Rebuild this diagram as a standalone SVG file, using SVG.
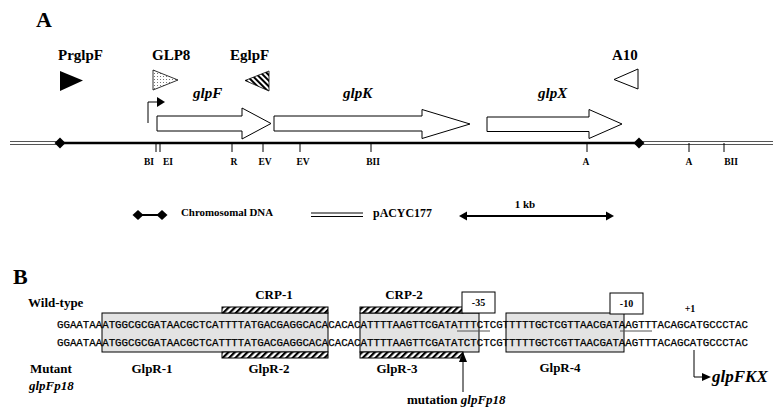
<svg xmlns="http://www.w3.org/2000/svg" width="783" height="414" viewBox="0 0 783 414">
<defs>
<style>
.b{font-family:"Liberation Serif","Times New Roman",serif;font-weight:bold;fill:#000}
.bi{font-family:"Liberation Serif","Times New Roman",serif;font-weight:bold;font-style:italic;fill:#000}
.r{font-family:"Liberation Serif","Times New Roman",serif;font-weight:bold;fill:#000}
.seq{font-family:"Liberation Mono","Courier New",monospace;font-size:10.8px;fill:#000;stroke:#000;stroke-width:0.25}
.gene{fill:#fff;stroke:#000;stroke-width:1}
.tick{stroke:#000;stroke-width:1}
.site{font-family:"Liberation Serif","Times New Roman",serif;font-weight:bold;font-size:9.5px;text-anchor:middle}
.hbar{fill:url(#hatch);stroke:#000;stroke-width:1}
.gbox{fill:#e3e3e3;stroke:#000;stroke-width:1}
.nbox{fill:#fff;stroke:#000;stroke-width:1}
.dbl{stroke:#555;stroke-width:1;fill:none}
.ul{stroke:#555;stroke-width:1}
</style>
<pattern id="hatch" patternUnits="userSpaceOnUse" width="4.5" height="4.5" patternTransform="rotate(45)">
<rect width="4.5" height="4.5" fill="#fff"/><rect width="2.2" height="4.5" fill="#000"/>
</pattern>
<pattern id="hatch2" patternUnits="userSpaceOnUse" width="4" height="4" patternTransform="rotate(-45)">
<rect width="4" height="4" fill="#fff"/><rect width="2" height="4" fill="#000"/>
</pattern>
<pattern id="dots" patternUnits="userSpaceOnUse" width="3" height="3">
<rect width="3" height="3" fill="#fff"/><rect x="1" y="1" width="1" height="1" fill="#777"/>
</pattern>
</defs>
<rect width="783" height="414" fill="#fff"/>

<text class="b" x="36" y="27" font-size="22">A</text>

<g id="connectors">
<line class="dbl" x1="10" y1="141.5" x2="60" y2="141.5"/>
<line class="dbl" x1="10" y1="144.5" x2="60" y2="144.5"/>
<line class="dbl" x1="639" y1="141.5" x2="773" y2="141.5" stroke="#222"/>
<line class="dbl" x1="639" y1="144.5" x2="773" y2="144.5" stroke="#222"/>
<line x1="60" y1="143" x2="639" y2="143" stroke="#000" stroke-width="2.6"/>
<path d="M148,123 V102 H158" fill="none" stroke="#000" stroke-width="1"/>
<polygon points="157,97 165,102 157,107" fill="#000"/>
</g>

<g id="diamond-left"><polygon points="60,137.5 65.5,143 60,148.5 54.5,143" fill="#000"/></g>
<g id="diamond-right"><polygon points="639,137.5 644.5,143 639,148.5 633.5,143" fill="#000"/></g>

<g id="sites">
<line class="tick" x1="156" y1="143" x2="156" y2="152"/>
<line class="tick" x1="160" y1="143" x2="160" y2="152"/>
<line class="tick" x1="232" y1="143" x2="232" y2="152"/>
<line class="tick" x1="263" y1="143" x2="263" y2="152"/>
<line class="tick" x1="300" y1="143" x2="300" y2="152"/>
<line class="tick" x1="371" y1="143" x2="371" y2="152"/>
<line class="tick" x1="587" y1="143" x2="587" y2="152"/>
<line class="tick" x1="689" y1="143" x2="689" y2="152"/>
<line class="tick" x1="724" y1="143" x2="724" y2="152"/>
<text class="site" x="149" y="165">BI</text>
<text class="site" x="168" y="165">EI</text>
<text class="site" x="234" y="165">R</text>
<text class="site" x="265" y="165">EV</text>
<text class="site" x="303" y="165">EV</text>
<text class="site" x="373" y="165">BII</text>
<text class="site" x="586" y="165">A</text>
<text class="site" x="689" y="165">A</text>
<text class="site" x="731" y="165">BII</text>
</g>

<g id="primer-PrglpF">
<text class="b" x="58" y="60" font-size="15">PrglpF</text>
<polygon points="60,71 83,80.5 60,91" fill="#000"/>
</g>
<g id="primer-GLP8">
<text class="b" x="152" y="60" font-size="15">GLP8</text>
<polygon points="153,70 178,80 153,90" fill="url(#dots)" stroke="#000" stroke-width="0.8"/>
</g>
<g id="primer-EglpF">
<text class="b" x="230" y="60" font-size="15">EglpF</text>
<polygon points="269,71 245,80.5 269,91" fill="url(#hatch2)" stroke="#000" stroke-width="0.8"/>
</g>
<g id="primer-A10">
<text class="b" x="612" y="60" font-size="15">A10</text>
<polygon points="638,69 614,79.5 638,89" fill="#fff" stroke="#000" stroke-width="1"/>
</g>

<g id="gene-glpF">
<polygon class="gene" points="157,116 242,116 242,108 271,123.5 242,139 242,131 157,131"/>
<text class="bi" x="193" y="98" font-size="15">glpF</text>
</g>
<g id="gene-glpK">
<polygon class="gene" points="274,116 422,116 422,109.5 470,124 422,138.5 422,131 274,131"/>
<text class="bi" x="343" y="98" font-size="15">glpK</text>
</g>
<g id="gene-glpX">
<polygon class="gene" points="487,117 589,117 589,109.5 622,124 589,138.5 589,131.5 487,131.5"/>
<text class="bi" x="538" y="98" font-size="15">glpX</text>
</g>

<g id="legend-chromosomal">
<line x1="138" y1="215" x2="162" y2="215" stroke="#000" stroke-width="2"/>
<polygon points="138,210 143.5,215 138,220 132.5,215" fill="#000"/>
<polygon points="162,210 167.5,215 162,220 156.5,215" fill="#000"/>
<text class="r" x="181" y="216" font-size="11" textLength="92" lengthAdjust="spacingAndGlyphs">Chromosomal DNA</text>
</g>
<g id="legend-pACYC177">
<line x1="311" y1="213" x2="363" y2="213" stroke="#000" stroke-width="1"/>
<line x1="311" y1="216.5" x2="363" y2="216.5" stroke="#000" stroke-width="1"/>
<text class="r" x="373" y="217" font-size="12" textLength="59" lengthAdjust="spacingAndGlyphs">pACYC177</text>
</g>
<g id="legend-scale">
<line x1="465" y1="216" x2="608" y2="216" stroke="#000" stroke-width="2"/>
<polygon points="459,216 467,211.5 467,220.5" fill="#000"/>
<polygon points="614,216 606,211.5 606,220.5" fill="#000"/>
<text class="r" x="525" y="208" font-size="11" text-anchor="middle">1 kb</text>
</g>

<text class="b" x="13" y="284" font-size="22">B</text>

<g id="glpR1-box"><rect class="gbox" x="102" y="313" width="226" height="39"/></g>
<g id="glpR3-box"><rect class="gbox" x="360" y="313" width="119" height="39"/></g>
<g id="glpR4-box"><rect class="gbox" x="506" y="313" width="118" height="39"/></g>

<g id="CRP-1">
<rect class="hbar" x="222" y="307" width="106" height="6"/>
<rect class="hbar" x="222" y="352" width="106" height="6"/>
<text class="b" x="274" y="299" font-size="13" text-anchor="middle">CRP-1</text>
</g>
<g id="CRP-2">
<rect class="hbar" x="360" y="307" width="103" height="6"/>
<rect class="hbar" x="360" y="352" width="103" height="6"/>
<text class="b" x="404" y="299" font-size="13" text-anchor="middle">CRP-2</text>
</g>
<g id="box-35">
<rect class="nbox" x="462" y="292" width="33" height="21"/>
<text class="b" x="478.5" y="306" font-size="10" text-anchor="middle">-35</text>
</g>
<g id="box-10">
<rect class="nbox" x="610" y="293" width="33" height="21"/>
<text class="b" x="626.5" y="307" font-size="10" text-anchor="middle">-10</text>
</g>

<g id="sequences">
<text class="seq" x="57" y="328" textLength="691" lengthAdjust="spacingAndGlyphs">GGAATAAATGGCGCGATAACGCTCATTTTATGACGAGGCACACACACATTTTAAGTTCGATATTTCTCGTTTTTGCTCGTTAACGATAAGTTTACAGCATGCCCTAC</text>
<text class="seq" x="57" y="346" textLength="691" lengthAdjust="spacingAndGlyphs">GGAATAAATGGCGCGATAACGCTCATTTTATGACGAGGCACACACACATTTTAAGTTCGATATCTCTCGTTTTTGCTCGTTAACGATAAGTTTACAGCATGCCCTAC</text>
<line class="ul" x1="457" y1="331" x2="490" y2="331"/>
<line class="ul" x1="620" y1="331" x2="652" y2="331"/>
</g>

<g id="labels-B">
<text class="b" x="28" y="307" font-size="13">Wild-type</text>
<text class="b" x="30" y="373" font-size="13">Mutant</text>
<text class="bi" x="29" y="390" font-size="13">glpFp18</text>
<text class="b" x="152" y="373" font-size="13" text-anchor="middle">GlpR-1</text>
<text class="b" x="269" y="373" font-size="13" text-anchor="middle">GlpR-2</text>
<text class="b" x="397" y="373" font-size="13" text-anchor="middle">GlpR-3</text>
<text class="b" x="560" y="372" font-size="13" text-anchor="middle">GlpR-4</text>
<text class="b" x="690" y="312" font-size="10" text-anchor="middle">+1</text>
</g>

<g id="mutation-pointer">
<line x1="463" y1="392" x2="463" y2="360" stroke="#000" stroke-width="1"/>
<polygon points="459,362 463,352 467,362" fill="#000"/>
<text x="407" y="404" font-size="13"><tspan class="b">mutation </tspan><tspan class="bi">glpFp18</tspan></text>
</g>

<g id="transcript-glpFKX">
<path d="M694,350 V377 H703" fill="none" stroke="#000" stroke-width="1"/>
<polygon points="702,373 711,377 702,381" fill="#000"/>
<text class="bi" x="712" y="382" font-size="17">glpFKX</text>
</g>
</svg>
